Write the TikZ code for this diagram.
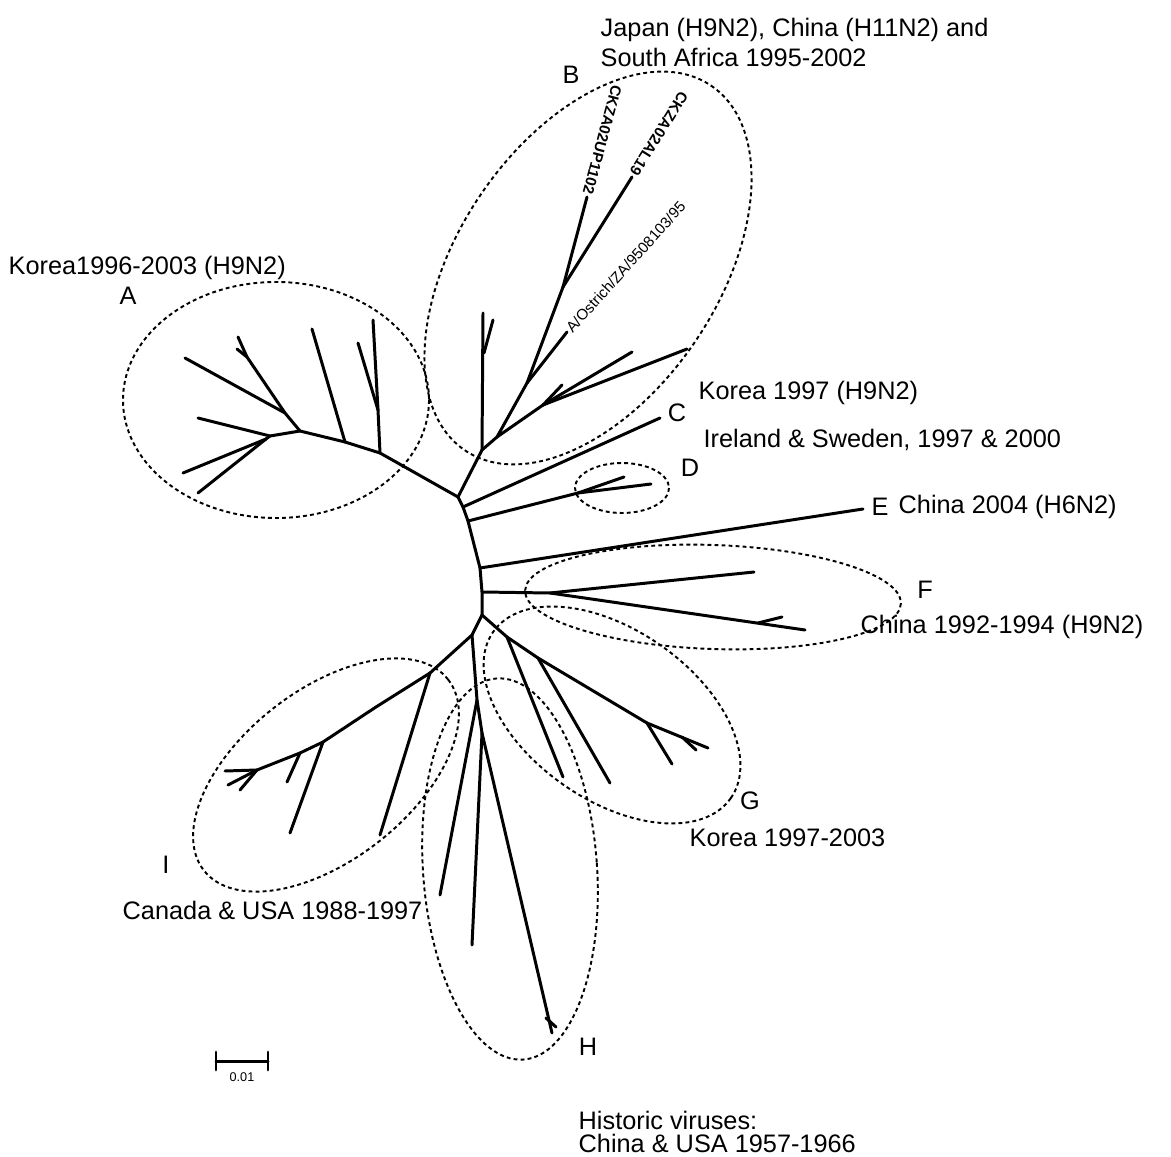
\documentclass[tikz,border=0pt]{standalone}
\usepackage{fontspec}
\setmainfont{Liberation Sans}
\begin{document}
\begin{tikzpicture}[x=0.1mm, y=-0.1mm,
    branch/.style={line width=0.85pt, line cap=round, line join=round},
    clade/.style={line width=0.55pt, dash pattern=on 1.1pt off 0.9pt},
    groupname/.style={anchor=west, inner sep=0pt, align=left,
                      font=\fontsize{7.2}{8}\selectfont},
    cladeletter/.style={inner sep=0pt, font=\fontsize{7.2}{8}\selectfont},
    tipname/.style={inner sep=0.6pt, font=\fontsize{4.3}{5}\selectfont},
    tipbold/.style={tipname, font=\fontsize{4.3}{5}\selectfont\bfseries}
  ]
    \useasboundingbox (0,0) rectangle (1171,1157);

    % hub
    \coordinate (hA) at (458,497);  \coordinate (h1) at (463,507);
    \coordinate (h2) at (468,521);  \coordinate (h3) at (480,568);
    \coordinate (h4) at (482,592);  \coordinate (h5) at (482,615);

    % clade A
    \coordinate (a1) at (380,453);  \coordinate (a1m) at (378,410);
    \coordinate (a1t) at (373,320); \coordinate (a1s) at (358,343);
    \coordinate (a2) at (345,442);  \coordinate (a2t) at (312,329);
    \coordinate (a3) at (300,431);  \coordinate (a3m) at (285,413);
    \coordinate (a3t1) at (185,358); \coordinate (a3j) at (247,357);
    \coordinate (a3t2) at (238,337); \coordinate (a3t3) at (237,349);
    \coordinate (a4) at (270,436);  \coordinate (a4t1) at (198,418);
    \coordinate (a4b) at (266,439); \coordinate (a4t2) at (183,473);
    \coordinate (a4t3) at (198,493);

    % clade B
    \coordinate (b0) at (482,450);  \coordinate (bv) at (483,313);
    \coordinate (bvj) at (484,353); \coordinate (bvs) at (493,320);
    \coordinate (b1) at (497,437);  \coordinate (b2) at (527,383);
    \coordinate (bo) at (567,332);  \coordinate (b3) at (563,287);
    \coordinate (bu) at (587,197);  \coordinate (bal) at (632,177);
    \coordinate (b4) at (543,405);  \coordinate (b4t1) at (632,352);
    \coordinate (b4t2) at (687,349); \coordinate (b4t3) at (562,385);

    % C, D, E, F
    \coordinate (c) at (660,418);
    \coordinate (d0) at (578,493);  \coordinate (d1) at (624,477);
    \coordinate (d2) at (651,484);
    \coordinate (e) at (863,509);
    \coordinate (f0) at (550,593);  \coordinate (f1) at (754,572);
    \coordinate (f2) at (805,630);  \coordinate (f2j) at (758,623);
    \coordinate (f2t) at (782,617);

    % clade G
    \coordinate (g0) at (507,637);  \coordinate (g1) at (563,777);
    \coordinate (g2) at (538,658);  \coordinate (g3) at (610,783);
    \coordinate (g4) at (647,723);  \coordinate (g5) at (708,748);
    \coordinate (g6) at (672,764);  \coordinate (g5j) at (682,737);
    \coordinate (g5t) at (696,750);

    % clades H and I
    \coordinate (ih) at (472,635);
    \coordinate (hh0) at (477,700); \coordinate (ht1) at (440,895);
    \coordinate (hh1) at (482,733); \coordinate (ht2) at (472,945);
    \coordinate (ht3) at (552,1033); \coordinate (hj) at (546,1018);
    \coordinate (htw) at (556,1027);
    \coordinate (i0) at (430,673);  \coordinate (im) at (376,707);
    \coordinate (i1) at (323,742);  \coordinate (i2) at (300,753);
    \coordinate (i3) at (257,770);  \coordinate (i4) at (225,771);
    \coordinate (it0) at (380,835); \coordinate (it1) at (290,833);
    \coordinate (it2) at (287,782); \coordinate (it3) at (240,790);
    \coordinate (it4) at (228,785);

    \draw[branch] (hA) -- (h1) -- (h2) -- (h3) -- (h4) -- (h5);
    \draw[branch] (i0) -- (im) -- (i1) -- (i2) -- (i3) -- (i4);
    \foreach \u/\v in {hA/a1, a1/a2, a2/a3, a3/a4, a4/a4b, a1/a1m, a1m/a1t,
        a1m/a1s, a2/a2t, a3/a3m, a3m/a3t1, a3m/a3j, a3j/a3t2, a3j/a3t3,
        a4/a4t1, a4b/a4t2, a4b/a4t3,
        hA/b0, b0/bv, bvj/bvs, b0/b1, b1/b2, b2/bo, b2/b3, b3/bu, b3/bal,
        b1/b4, b4/b4t1, b4/b4t2, b4/b4t3,
        h1/c, h2/d0, d0/d1, d0/d2, h3/e, h4/f0, f0/f1, f0/f2, f2j/f2t,
        h5/g0, g0/g1, g0/g2, g2/g3, g2/g4, g4/g5, g4/g6, g5j/g5t,
        h5/ih, ih/hh0, hh0/ht1, hh0/hh1, hh1/ht2, hh1/ht3, hj/htw,
        ih/i0, i0/it0, i1/it1, i2/it2, i3/it3, i3/it4}
      \draw[branch] (\u) -- (\v);

    % clade outlines
    \draw[clade] (276,400) ellipse [x radius=153, y radius=118];
    \draw[clade, rotate around={56:(588,268)}] (588,268)
      ellipse [x radius=220, y radius=130];
    \draw[clade] (622,488) ellipse [x radius=47, y radius=25];
    \draw[clade, rotate around={-2:(713,597)}] (713,597)
      ellipse [x radius=188, y radius=52];
    \draw[clade, rotate around={-35:(612,715)}] (612,715)
      ellipse [x radius=145, y radius=85];
    \draw[clade, rotate around={4:(510,869)}] (510,869)
      ellipse [x radius=87, y radius=191];
    \draw[clade, rotate around={38:(326,775)}] (326,775)
      ellipse [x radius=155, y radius=85];

    % tip names
    \node[tipname, anchor=west, rotate=48] (tOs) at (bo)
      {A/Ostrich/ZA/9508103/95};
    \node[tipbold, anchor=east, rotate=-105] (tUP) at (bu) {CKZA02UP1102};
    \node[tipbold, anchor=east, rotate=-122] (tAL) at (bal) {CKZA02AL19};

    % clade letters and names
    \node[groupname] (nA) at (8,268) {Korea1996-2003 (H9N2)};
    \node[cladeletter] (lA) at (128,296) {A};
    \node[groupname] (nB1) at (600,30) {Japan (H9N2), China (H11N2) and};
    \node[groupname] (nB2) at (600,57) {South Africa 1995-2002};
    \node[cladeletter] (lB) at (571,75) {B};
    \node[groupname] (nC) at (698,393) {Korea 1997 (H9N2)};
    \node[cladeletter] (lC) at (677,413) {C};
    \node[groupname] (nD) at (703,440) {Ireland \& Sweden, 1997 \& 2000};
    \node[cladeletter] (lD) at (690,468) {D};
    \node[cladeletter] (lE) at (880,507) {E};
    \node[groupname] (nE) at (898,507) {China 2004 (H6N2)};
    \node[cladeletter] (lF) at (925,590) {F};
    \node[groupname] (nF) at (860,627) {China 1992-1994 (H9N2)};
    \node[cladeletter] (lG) at (750,801) {G};
    \node[groupname] (nG) at (689,838) {Korea 1997-2003};
    \node[cladeletter] (lH) at (588,1047) {H};
    \node[cladeletter] (lI) at (166,865) {I};
    \node[groupname] (nI) at (122,910) {Canada \& USA 1988-1997};
    \node[groupname] (nH1) at (578,1120) {Historic viruses:};
    \node[groupname] (nH2) at (578,1143) {China \& USA 1957-1966};

    % scale bar
    \coordinate (sbL) at (216,1061); \coordinate (sbR) at (268,1061);
    \draw[branch] (sbL) -- (sbR);
    \draw[branch] ([yshift=-0.9mm]sbL) -- ([yshift=0.9mm]sbL);
    \draw[branch] ([yshift=-0.9mm]sbR) -- ([yshift=0.9mm]sbR);
    \node[inner sep=0pt, font=\fontsize{3.6}{4}\selectfont] (sbt)
      at (242,1077) {0.01};
  \end{tikzpicture}
\end{document}
